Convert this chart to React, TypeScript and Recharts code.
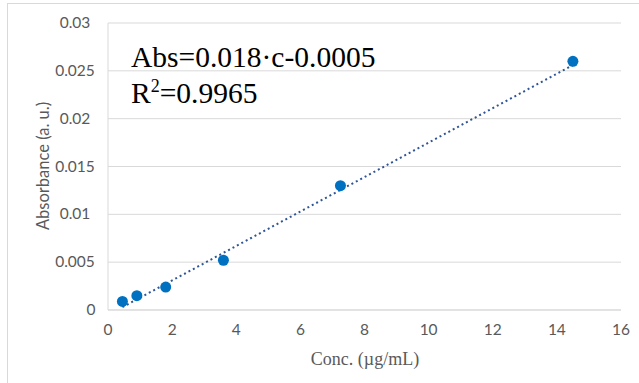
import React from 'react';
import { ScatterChart, Scatter, XAxis, YAxis, CartesianGrid } from 'recharts';

// calibration points
const conc = [0.45, 0.9, 1.8, 3.6, 7.25, 14.5];
const absorbance = [0.0009, 0.0015, 0.0024, 0.0052, 0.013, 0.026];

// dotted trend line, ends only
const trendConc = [0.45, 14.5];
const trendAbs = [0.0003, 0.0256];

const xTicks = [0, 2, 4, 6, 8, 10, 12, 14, 16];
const yTicks = [0, 0.005, 0.01, 0.015, 0.02, 0.025, 0.03];

const points = conc.map((c, i) => ({ c, abs: absorbance[i] }));
const trend = trendConc.map((c, i) => ({ c, abs: trendAbs[i] }));

const tickFont = 'Lato, "Open Sans", sans-serif';

const YTick = (props: any) => {
  const { y, payload } = props;
  const v = payload.value;
  return (
    <text x={v === 0 ? 91 : 75} y={y} dy={5} textAnchor="middle" fill="#595959" fontSize={15.5} fontFamily={tickFont}>
      {String(v)}
    </text>
  );
};

const XTick = (props: any) => {
  const { x, y, payload } = props;
  return (
    <text x={x} y={y} dy={17} textAnchor="middle" fill="#595959" fontSize={15.5} fontFamily={tickFont}>
      {String(payload.value)}
    </text>
  );
};

export default function App() {
  return (
    <div style={{ position: 'absolute', left: 0, top: 0, width: 639, height: 383, overflow: 'hidden', background: '#fff' }}>
      <div style={{ position: 'absolute', left: 7, top: 3, width: 800, height: 600, border: '1px solid #D9D9D9' }} />
      <ScatterChart width={639} height={383} margin={{ top: 23, right: 18, bottom: 43, left: 0 }}>
        <CartesianGrid horizontal vertical={false} stroke="#D9D9D9" strokeWidth={1} />
        <XAxis
          type="number"
          dataKey="c"
          domain={[0, 16]}
          ticks={xTicks}
          height={30}
          axisLine={{ stroke: '#D9D9D9' }}
          tickLine={false}
          tick={<XTick />}
        />
        <YAxis
          type="number"
          dataKey="abs"
          domain={[0, 0.03]}
          ticks={yTicks}
          width={108}
          axisLine={{ stroke: '#D9D9D9' }}
          tickLine={false}
          tick={<YTick />}
        />
        <Scatter
          data={trend}
          line={{ stroke: '#2F5597', strokeWidth: 2, strokeDasharray: '2 3' }}
          shape={() => <g />}
          isAnimationActive={false}
        />
        <Scatter data={points} fill="#0070C0" shape={(p: any) => <circle cx={p.cx} cy={p.cy} r={5.5} fill="#0070C0" />} isAnimationActive={false} />
      </ScatterChart>
      <div style={{ position: 'absolute', left: 131, top: 39, fontFamily: '"Liberation Serif", serif', fontSize: 29.5, color: '#000', whiteSpace: 'nowrap', lineHeight: '36px' }}>
        Abs=0.018·c-0.0005
        <br />
        R<sup style={{ fontSize: 18, verticalAlign: 'top', lineHeight: '22px' }}>2</sup>=0.9965
      </div>
      <div
        style={{
          position: 'absolute',
          left: 43,
          top: 166,
          transform: 'translate(-50%, -50%) rotate(-90deg)',
          fontFamily: tickFont,
          fontSize: 16.5,
          color: '#595959',
          whiteSpace: 'nowrap',
        }}
      >
        Absorbance (a. u.)
      </div>
      <div
        style={{
          position: 'absolute',
          left: 365,
          top: 359,
          transform: 'translate(-50%, -50%)',
          fontFamily: '"Liberation Serif", serif',
          fontSize: 18,
          color: '#595959',
          whiteSpace: 'nowrap',
        }}
      >
        Conc. (µg/mL)
      </div>
    </div>
  );
}
